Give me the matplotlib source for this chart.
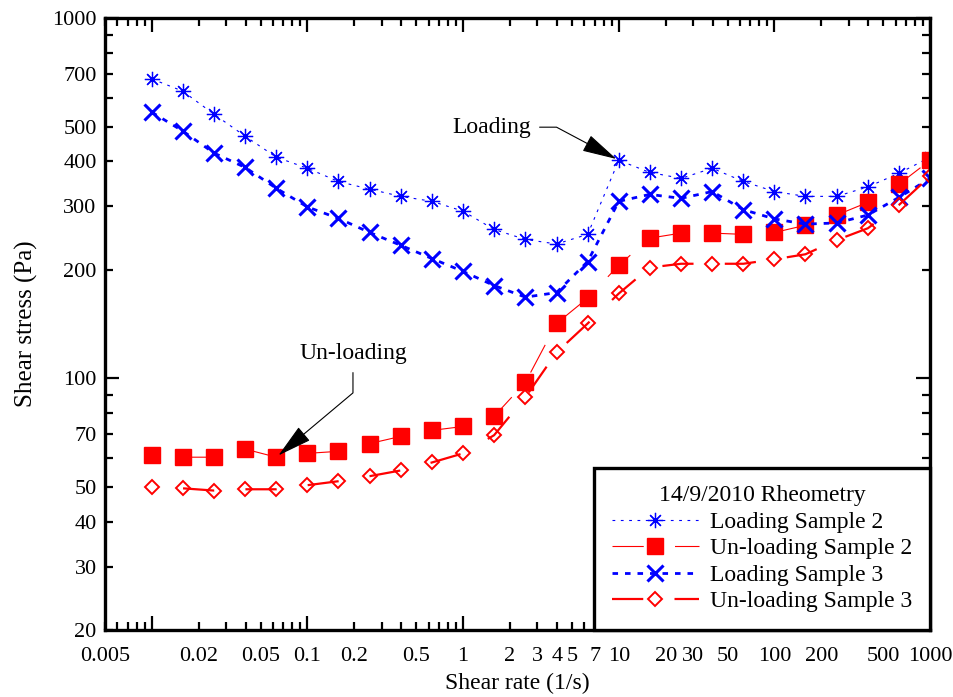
import matplotlib.pyplot as plt
from matplotlib.ticker import FixedLocator, FuncFormatter

plt.rcParams['font.family'] = ['Liberation Serif', 'DejaVu Serif']
plt.rcParams['lines.scale_dashes'] = False

# shear rate (1/s), 5 readings per decade
rate = [0.01, 0.0158, 0.0251, 0.0398, 0.0631,
        0.1, 0.158, 0.251, 0.398, 0.631,
        1, 1.58, 2.51, 3.98, 6.31,
        10, 15.8, 25.1, 39.8, 63.1,
        100, 158, 251, 398, 631, 1000]

# shear stress (Pa)
load_s2 = [678, 627, 541, 470, 411, 383, 352, 335, 320, 310, 291, 259, 243,
           236, 251, 403, 373, 359, 383, 352, 330, 320, 320, 340, 371, 411]
unload_s2 = [61.1, 60.4, 60.4, 63.6, 60.4, 61.9, 62.7, 65.9, 69.0, 71.7, 73.5,
             78.4, 97.4, 142, 167, 206, 245, 253, 253, 251, 254, 266, 284,
             308, 346, 403]
load_s3 = [548, 486, 422, 385, 337, 299, 278, 254, 234, 215, 198, 181, 168,
           173, 211, 310, 324, 316, 330, 294, 277, 268, 270, 284, 318, 359]
unload_s3 = [49.8, 49.5, 48.8, 49.2, 49.2, 50.5, 51.8, 53.5, 55.5, 58.4, 61.9,
             69.5, 88.6, 118, 142, 172, 203, 208, 208, 208, 214, 221, 242,
             261, 303, 364]

xtick_labels = ['0.005', '0.02', '0.05', '0.1', '0.2', '0.5', '1', '2', '3',
                '4', '5', '7', '10', '20', '30', '50', '100', '200', '500',
                '1000']
ytick_labels = ['20', '30', '40', '50', '70', '100', '200', '300', '400',
                '500', '700', '1000']

fig = plt.figure(figsize=(9.54, 6.97), dpi=100)
ax = fig.add_axes([0.110, 0.096, 0.865, 0.878])

long_dash = (22.5, (22.5, 22.5))
ax.plot(rate, load_s2, color='blue', lw=0.8, linestyle=(0, (2, 4)),
        marker=(8, 2, 0), ms=11, mew=0.9, label='Loading Sample 2')
ax.plot(rate, unload_s2, color='red', lw=0.8, linestyle=long_dash,
        marker='s', ms=11, mec='red', mfc='red', label='Un-loading Sample 2')
ax.plot(rate, load_s3, color='blue', lw=2.0, linestyle=(0, (4, 5)),
        marker='x', ms=12, mew=2.2, label='Loading Sample 3')
ax.plot(rate, unload_s3, color='red', lw=1.6, linestyle=long_dash,
        marker='D', ms=7.6, mew=1.4, mfc='none', mec='red',
        label='Un-loading Sample 3')

ax.set_xscale('log')
ax.set_yscale('log')
ax.set_xlim(0.005, 1000)
ax.set_ylim(20, 1000)

# long ticks on the decades, short ticks in between
xdec = [0.01, 0.1, 1, 10, 100, 1000]
xmin = [m * d for d in [0.001, 0.01, 0.1, 1, 10, 100] for m in range(2, 10)]
ydec = [100, 1000]
ymin = [m * d for d in [10, 100] for m in range(2, 10)]

xl = {float(s): s for s in xtick_labels}
yl = {float(s): s for s in ytick_labels}

def fmt(table):
    def f(v, pos):
        for k, s in table.items():
            if abs(v - k) / k < 1e-6:
                return s
        return ''
    return FuncFormatter(f)

ax.xaxis.set_major_locator(FixedLocator(xdec))
ax.xaxis.set_minor_locator(FixedLocator([v for v in xmin if 0.005 <= v <= 1000]))
ax.yaxis.set_major_locator(FixedLocator(ydec))
ax.yaxis.set_minor_locator(FixedLocator([v for v in ymin if 20 <= v <= 1000]))
for axis, table in [(ax.xaxis, xl), (ax.yaxis, yl)]:
    axis.set_major_formatter(fmt(table))
    axis.set_minor_formatter(fmt(table))

ax.tick_params(which='both', direction='in', top=True, right=True,
               width=1.6, labelsize=16)
ax.tick_params(which='major', length=10)
ax.tick_params(which='minor', length=5.5)
ax.tick_params(axis='x', which='both', pad=12)
ax.tick_params(axis='y', which='both', pad=6)

for sp in ax.spines.values():
    sp.set_linewidth(2.4)

ax.set_xlabel('Shear rate (1/s)', fontsize=17, labelpad=5)
ax.set_ylabel('Shear stress (Pa)', fontsize=18, labelpad=10)

arrow = dict(arrowstyle='-|>,head_length=1.1,head_width=0.28',
             mutation_scale=20, color='black', lw=0.8, shrinkA=4, shrinkB=2)
ax.annotate('Loading', xy=(rate[15], load_s2[15]), xytext=(1.53, 498),
            ha='center', va='center', fontsize=17,
            arrowprops=dict(arrow, relpos=(1, 0.5),
                            connectionstyle='angle,angleA=0,angleB=152,rad=0'))
ax.annotate('Un-loading', xy=(rate[4], unload_s2[4]), xytext=(0.196, 117),
            ha='center', va='center', fontsize=17,
            arrowprops=dict(arrow, relpos=(0.5, 0),
                            connectionstyle='angle,angleA=-90,angleB=40,rad=0'))

leg = ax.legend(loc='lower right', borderaxespad=0, fontsize=17,
                title='14/9/2010 Rheometry', title_fontsize=17,
                handlelength=3.7, handletextpad=0.47, labelspacing=0.21,
                borderpad=0.75, fancybox=False, framealpha=1,
                edgecolor='black')
leg.get_frame().set_linewidth(2.4)
# legend samples start with a drawn dash
for h in leg.legend_handles:
    if h.get_color() == 'red':
        h.set_linestyle((0, (22.5, 22.5)))

fig.savefig('out.png', dpi=100)
